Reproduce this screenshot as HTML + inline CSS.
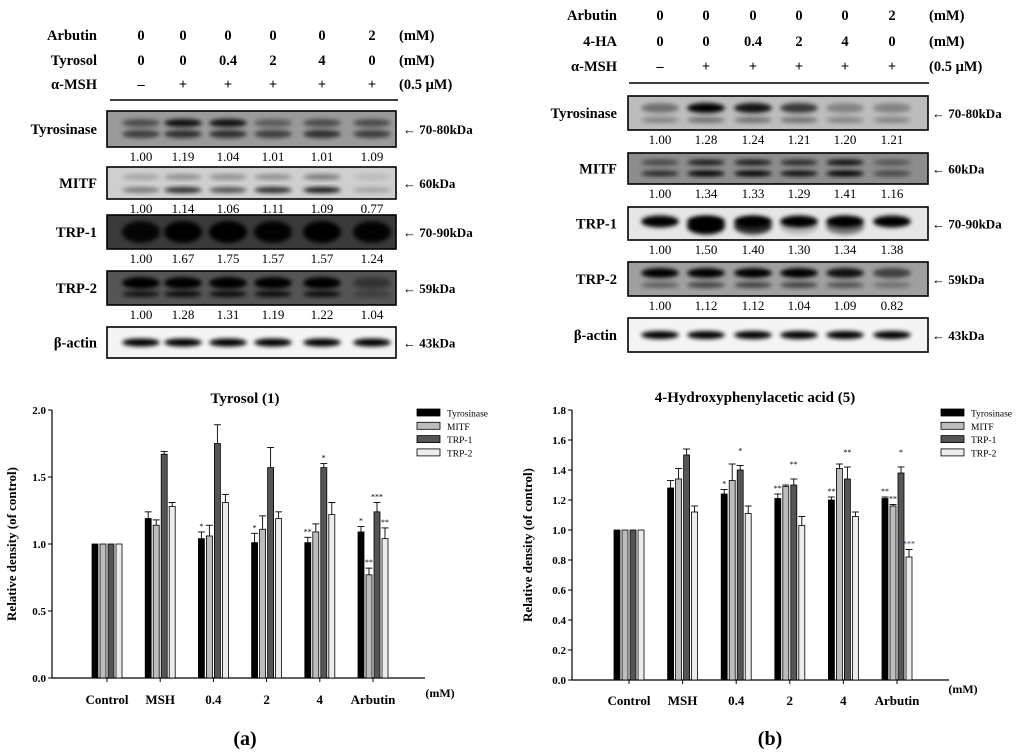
<!DOCTYPE html>
<html><head><meta charset="utf-8"><style>
html,body{margin:0;padding:0;background:#fff;}
svg{display:block;font-family:"Liberation Serif",serif;}
</style></head><body>
<svg id="fig" width="1024" height="755" viewBox="0 0 1024 755">
<defs>
<filter id="bl" x="-20%" y="-50%" width="140%" height="200%"><feGaussianBlur stdDeviation="2"/></filter>
</defs>
<g id="blotA"></g>
<g id="blotB"></g>
<g id="chartA"></g>
<g id="chartB"></g>
<text x="245" y="745" font-size="20" font-weight="bold" text-anchor="middle">(<tspan>a</tspan>)</text>
<text x="770" y="745" font-size="20" font-weight="bold" text-anchor="middle">(<tspan>b</tspan>)</text>
</svg>
<script>
const NS="http://www.w3.org/2000/svg";
function mk(p,tag,at,txt){const e=document.createElementNS(NS,tag);for(const k in at)e.setAttribute(k,at[k]);if(txt!==undefined)e.textContent=txt;p.appendChild(e);return e;}

// ---------- Chart data ----------
const categories=["Control","MSH","0.4","2","4","Arbutin"];
const seriesNames=["Tyrosinase","MITF","TRP-1","TRP-2"];
const seriesColors=["#000000","#bdbdbd","#555555","#ececec"];
const aTyrosinase=[1.00,1.19,1.04,1.01,1.01,1.09];
const aMITF=[1.00,1.14,1.06,1.11,1.09,0.77];
const aTRP1=[1.00,1.67,1.75,1.57,1.57,1.24];
const aTRP2=[1.00,1.28,1.31,1.19,1.22,1.04];
const aErrTyrosinase=[0,0.05,0.05,0.07,0.04,0.04];
const aErrMITF=[0,0.04,0.08,0.10,0.06,0.05];
const aErrTRP1=[0,0.02,0.14,0.15,0.03,0.07];
const aErrTRP2=[0,0.03,0.06,0.05,0.09,0.08];
const aStars=[["","","",""],["","","",""],["*","","",""],["*","","",""],["**","","*",""],["*","**","***","**"]];
const aTicks=[0,0.5,1.0,1.5,2.0];
const bTyrosinase=[1.00,1.28,1.24,1.21,1.20,1.21];
const bMITF=[1.00,1.34,1.33,1.29,1.41,1.16];
const bTRP1=[1.00,1.50,1.40,1.30,1.34,1.38];
const bTRP2=[1.00,1.12,1.11,1.03,1.09,0.82];
const bErrTyrosinase=[0,0.05,0.03,0.03,0.02,0.01];
const bErrMITF=[0,0.07,0.11,0.01,0.03,0.01];
const bErrTRP1=[0,0.04,0.03,0.04,0.08,0.04];
const bErrTRP2=[0,0.04,0.05,0.06,0.03,0.05];
const bStars=[["","","",""],["","","",""],["*","","*",""],["**","","**",""],["**","","**",""],["**","**","*","***"]];
const bTicks=[0,0.2,0.4,0.6,0.8,1.0,1.2,1.4,1.6,1.8];

function chart(g,o){
  const y=v=>o.y0-(v/o.ymax)*(o.y0-o.y1);
  const x=i=>o.x0+i*o.step;
  mk(g,"text",{x:o.tx,y:o.ty,"font-size":15,"font-weight":"bold","text-anchor":"middle",},o.title);
  mk(g,"line",{x1:o.ax,y1:o.y0,x2:o.ax,y2:o.y1,stroke:"#000","stroke-width":1.2,});
  mk(g,"line",{x1:o.ax,y1:o.y0,x2:o.axEnd,y2:o.y0,stroke:"#000","stroke-width":1.2,});
  o.ticks.forEach(t=>{
    mk(g,"line",{x1:o.ax-4,y1:y(t),x2:o.ax,y2:y(t),stroke:"#000"});
    const tl=mk(g,"text",{x:o.ax-6,y:y(t)+4,"font-size":11,"font-weight":"bold","text-anchor":"end"},t.toFixed(1));
    
    
  });
  const yt=mk(g,"text",{x:0,y:0,"font-size":13,"font-weight":"bold","text-anchor":"middle",transform:`translate(${o.ytx},${(o.y0+o.y1)/2}) rotate(-90)`},"Relative density (of control)");
  
  
  const offs=[-12,-4,4,12];
  categories.forEach((c,i)=>{
    mk(g,"line",{x1:x(i),y1:o.y0,x2:x(i),y2:o.y0+4,stroke:"#000"});
    const cl=mk(g,"text",{x:x(i),y:o.xly,"font-size":13,"font-weight":"bold","text-anchor":"middle"},c);
    
    
    o.vals.forEach((arr,s)=>{
      const v=arr[i],cx=x(i)+offs[s];
      const r=mk(g,"rect",{x:cx-3,y:y(v),width:6,height:o.y0-y(v),fill:seriesColors[s],stroke:"#000","stroke-width":0.8});
      
      
      const e=o.errs[s][i];
      if(e>0){
        mk(g,"line",{x1:cx,y1:y(v),x2:cx,y2:y(v+e),stroke:"#000","stroke-width":0.9});
        mk(g,"line",{x1:cx-3.5,y1:y(v+e),x2:cx+3.5,y2:y(v+e),stroke:"#000","stroke-width":0.9});
      }
      const st=o.stars[i][s];
      if(st){
        const sy=o.starHigh&&s===2?y(v+e)-o.starLift:y(v+e)-3;
        const t=mk(g,"text",{x:cx,y:sy,"font-size":8,"text-anchor":"middle",fill:(o.starHigh&&s===3&&st==="***")?"#336":"#000"},st);
        
        
      }
    });
  });
  mk(g,"text",{x:o.unitX,y:o.unitY,"font-size":12,"font-weight":"bold","text-anchor":"middle",},"(mM)");
  seriesNames.forEach((n,s)=>{
    const ly=o.legY+s*13.3;
    const lr=mk(g,"rect",{x:o.legX,y:ly-4,width:23,height:7,fill:seriesColors[s],stroke:"#000","stroke-width":0.8});
    
    
    const lt=mk(g,"text",{x:o.legX+30,y:ly+3.5,"font-size":9.5},n);
    
    
  });
}
chart(document.getElementById("chartA"),{title:"Tyrosol (1)",tx:245,ty:403,ax:52,axEnd:425,y0:678,y1:410,ymax:2.0,x0:107,step:53.2,ticks:aTicks,ytx:16,xly:704,
  vals:[aTyrosinase,aMITF,aTRP1,aTRP2],errs:[aErrTyrosinase,aErrMITF,aErrTRP1,aErrTRP2],stars:aStars,starHigh:false,unitX:440,unitY:697,legX:417,legY:413});
chart(document.getElementById("chartB"),{title:"4-Hydroxyphenylacetic acid (5)",tx:755,ty:402,ax:572,axEnd:949,y0:680,y1:410,ymax:1.8,x0:629,step:53.6,ticks:bTicks,ytx:532,xly:705,
  vals:[bTyrosinase,bMITF,bTRP1,bTRP2],errs:[bErrTyrosinase,bErrMITF,bErrTRP1,bErrTRP2],stars:bStars,starHigh:true,starLift:12,unitX:963,unitY:693,legX:941,legY:413});

// ---------- Blots ----------
function blot(g,o){
  const hdr=o.hdr;
  hdr.forEach((row,r)=>{
    mk(g,"text",{x:o.lblR,y:o.hy[r]+5,"font-size":14.5,"font-weight":"bold","text-anchor":"end",},row[0]);
    row[1].forEach((v,i)=>mk(g,"text",{x:o.cols[i],y:o.hy[r]+5,"font-size":14.5,"font-weight":"bold","text-anchor":"middle"},v));
    mk(g,"text",{x:o.unitX,y:o.hy[r]+5,"font-size":14.5,"font-weight":"bold"},row[2]);
  });
  mk(g,"line",{x1:o.lineX[0],y1:o.lineY,x2:o.lineX[1],y2:o.lineY,stroke:"#000","stroke-width":1.5});
  o.rows.forEach(b=>{
    const grp=mk(g,"g",{});
    mk(grp,"rect",{x:o.bx0,y:b.y0,width:o.bx1-o.bx0,height:b.y1-b.y0,fill:b.bg,stroke:"#000","stroke-width":1.6});
    const cy=(b.y0+b.y1)/2;
    b.bands.forEach(bd=>{
      o.cols.forEach((cx,i)=>{
        const a=bd.int[i];
        mk(grp,"ellipse",{cx:cx,cy:cy+bd.dy,rx:19,ry:bd.h,fill:"#000",opacity:a,filter:"url(#bl)"});
      });
    });
    mk(g,"text",{x:o.lblR,y:cy+5,"font-size":14.5,"font-weight":"bold","text-anchor":"end"},b.name);
    mk(g,"text",{x:o.arrX,y:cy+5,"font-size":13,"font-weight":"bold"},"\u2190 "+b.kda);
    if(b.q) b.q.forEach((v,i)=>mk(g,"text",{x:o.cols[i],y:b.y1+14,"font-size":13,"text-anchor":"middle"},v));
  });
}
blot(document.getElementById("blotA"),{
  lblR:97,cols:[141,183,228,273,322,372],unitX:399,hy:[35,60,84],lineY:100,lineX:[110,398],bx0:107,bx1:396,arrX:403,
  hdr:[["Arbutin",["0","0","0","0","0","2"],"(mM)"],["Tyrosol",["0","0","0.4","2","4","0"],"(mM)"],["\u03b1-MSH",["\u2013","+","+","+","+","+"],"(0.5 \u03bcM)"]],
  rows:[
    {name:"Tyrosinase",kda:"70-80kDa",y0:111,y1:147,bg:"#9a9a9a",q:["1.00","1.19","1.04","1.01","1.01","1.09"],bands:[{dy:-6,h:4,int:[.5,.9,.9,.4,.5,.5]},{dy:5,h:4,int:[.6,.7,.7,.6,.7,.6]}]},
    {name:"MITF",kda:"60kDa",y0:167,y1:199,bg:"#cfcfcf",q:["1.00","1.14","1.06","1.11","1.09","0.77"],bands:[{dy:-6,h:3,int:[.2,.3,.3,.3,.4,.1]},{dy:7,h:3,int:[.4,.8,.6,.8,.9,.2]}]},
    {name:"TRP-1",kda:"70-90kDa",y0:215,y1:249,bg:"#3a3a3a",q:["1.00","1.67","1.75","1.57","1.57","1.24"],bands:[{dy:0,h:11,int:[.9,1,1,.95,1,.95]}]},
    {name:"TRP-2",kda:"59kDa",y0:271,y1:305,bg:"#555",q:["1.00","1.28","1.31","1.19","1.22","1.04"],bands:[{dy:-5,h:6,int:[1,1,1,1,1,.4]},{dy:6,h:3,int:[.8,.9,.9,.9,.9,.3]}]},
    {name:"\u03b2-actin",kda:"43kDa",y0:327,y1:358,bg:"#f4f4f4",bands:[{dy:0,h:4,int:[1,1,1,1,1,1]}]}
  ]});
blot(document.getElementById("blotB"),{
  lblR:617,cols:[660,706,753,799,845,892],unitX:929,hy:[15,41,66],lineY:83,lineX:[629,929],bx0:628,bx1:928,arrX:932,
  hdr:[["Arbutin",["0","0","0","0","0","2"],"(mM)"],["4-HA",["0","0","0.4","2","4","0"],"(mM)"],["\u03b1-MSH",["\u2013","+","+","+","+","+"],"(0.5 \u03bcM)"]],
  rows:[
    {name:"Tyrosinase",kda:"70-80kDa",y0:96,y1:130,bg:"#bdbdbd",q:["1.00","1.28","1.24","1.21","1.20","1.21"],bands:[{dy:-5,h:5,int:[.4,1,.9,.7,.3,.3]},{dy:7,h:3,int:[.3,.4,.4,.4,.3,.3]}]},
    {name:"MITF",kda:"60kDa",y0:153,y1:184,bg:"#8d8d8d",q:["1.00","1.34","1.33","1.29","1.41","1.16"],bands:[{dy:-6,h:3,int:[.5,.8,.8,.7,.9,.4]},{dy:5,h:3,int:[.7,1,1,.9,1,.5]}]},
    {name:"TRP-1",kda:"70-90kDa",y0:207,y1:240,bg:"#e6e6e6",q:["1.00","1.50","1.40","1.30","1.34","1.38"],bands:[{dy:-2,h:6,int:[1,1,1,1,1,1]},{dy:3,h:8,int:[0,1,.8,.2,.5,0]}]},
    {name:"TRP-2",kda:"59kDa",y0:262,y1:296,bg:"#a0a0a0",q:["1.00","1.12","1.12","1.04","1.09","0.82"],bands:[{dy:-6,h:5,int:[1,1,1,1,.9,.6]},{dy:6,h:3,int:[.4,.6,.6,.6,.5,.3]}]},
    {name:"\u03b2-actin",kda:"43kDa",y0:318,y1:352,bg:"#f4f4f4",bands:[{dy:0,h:4,int:[1,1,1,1,1,1]}]}
  ]});
</script>
</body></html>
